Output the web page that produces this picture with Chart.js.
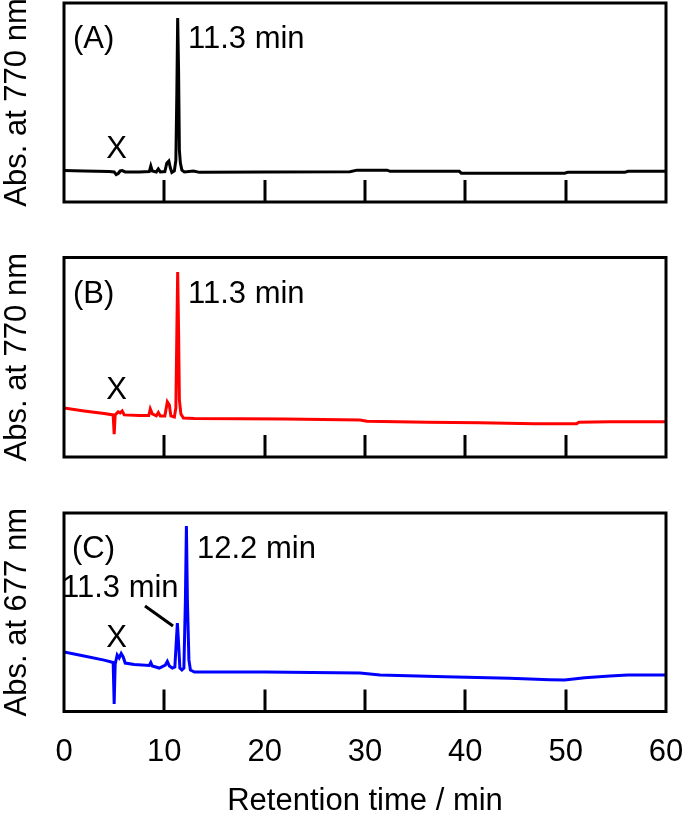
<!DOCTYPE html>
<html>
<head>
<meta charset="utf-8">
<script src="https://cdn.jsdelivr.net/npm/chart.js@4.4.1/dist/chart.umd.min.js"></script>
<style>
html,body{margin:0;padding:0;background:#fff;}
#wrap{position:relative;width:685px;height:815px;overflow:hidden;background:#fff;}
canvas{position:absolute;left:0;}
</style>
</head>
<body>
<div id="wrap">
<canvas id="cA" width="685" height="215" style="top:0px;width:685px;height:215px"></canvas>
<canvas id="cB" width="685" height="215" style="top:250px;width:685px;height:215px"></canvas>
<canvas id="cC" width="685" height="310" style="top:505px;width:685px;height:310px"></canvas>
</div>
<script>
// ---- Data (retention time in min, absorbance in arbitrary units 0-100) ----
const timeA = [0,2,4.5,5.0,5.2,5.4,5.6,5.8,6.1,7.5,8.5,8.65,8.8,9.2,9.4,9.6,10.05,10.25,10.45,10.6,10.75,11.0,11.15,11.25,11.33,11.42,11.5,11.6,11.75,12.0,12.9,13.5,20,28.5,29.2,32.2,32.5,39.4,39.6,49.9,50.2,55.9,56.2,60];
const absA  = [15.8,15.6,15.3,15.1,13.8,14.3,15.6,15.8,15.1,15.1,15.3,18.1,15.6,15.1,16.6,15.1,15.3,19.6,20.6,17.1,14.8,15.6,21,56,92.5,66,26,19.6,16,15.1,15.6,14.9,15.1,15.2,16.0,16.0,15.4,15.4,14.5,14.5,14.9,14.9,15.4,15.4];

const timeB = [0,2,4,4.9,5.0,5.1,5.4,5.6,5.8,6.0,7.5,8.45,8.6,8.8,9.2,9.4,9.6,10.05,10.3,10.5,10.65,11.0,11.15,11.25,11.33,11.42,11.5,11.65,11.9,13,22,29.5,30.2,36.2,41.4,46.9,51.1,51.3,54.4,60];
const absB  = [24.6,23.1,21.8,21.1,11.5,21.1,22.6,22.1,23.1,21.1,20.8,20.8,24.1,21.6,20.6,22.3,20.6,20.6,27.6,26,20.6,20,24.6,63.7,92.7,63.7,28.6,21.6,19.5,19.3,19,18.5,17.9,17.4,17.2,16.7,16.7,17.4,17.7,17.7];

const timeC = [0,2,4,4.9,5.0,5.1,5.3,5.5,5.7,5.9,6.1,7,8.5,8.65,8.8,9.5,10.1,10.3,10.5,10.8,11.05,11.2,11.3,11.4,11.55,11.75,11.95,12.1,12.2,12.3,12.45,12.6,13,20,29.5,31.5,38,44.4,48.4,49.9,51.9,54.4,56.2,60];
const absC  = [30,28,25.9,24.7,3.8,23.9,28.5,27,29.2,27.5,24.4,23.7,23.2,24.7,22.9,21.9,23.4,25.2,22.9,21.9,22.4,36,44.6,36,21.9,20.9,21.9,56,93.5,56,26,20.9,19.9,19.9,19.4,18.4,17.5,16.7,16,15.9,17,17.9,18.4,18.4];

const xTicks = [0,10,20,30,40,50,60];
const panelLabels = ['(A)','(B)','(C)'];
const yTitles = ['Abs. at 770 nm','Abs. at 770 nm','Abs. at 677 nm'];
const xTitle = 'Retention time / min';

const FONT = '"Liberation Sans", Arial, Helvetica, sans-serif';
Chart.defaults.font.family = FONT;
Chart.defaults.color = '#000';

// Frame + inward ticks + annotations
function framePlugin(notes){
  return {
    id:'frame',
    afterDraw(chart){
      const ctx = chart.ctx, a = chart.chartArea, xs = chart.scales.x;
      ctx.save();
      ctx.strokeStyle = '#000';
      ctx.lineWidth = 3;
      ctx.lineCap = 'butt';
      ctx.beginPath();
      xs.ticks.forEach(t => {
        if (t.value <= xs.min || t.value >= xs.max) return;
        const px = Math.round(xs.getPixelForValue(t.value));
        ctx.moveTo(px, a.bottom);
        ctx.lineTo(px, a.bottom - 22);
      });
      ctx.stroke();
      ctx.strokeRect(a.left, a.top, a.right - a.left, a.bottom - a.top);
      ctx.fillStyle = '#000';
      ctx.font = '31px ' + FONT;
      ctx.textBaseline = 'alphabetic';
      notes.forEach(n => {
        if (n.line) {
          ctx.beginPath();
          ctx.lineWidth = 3;
          ctx.moveTo(a.left + n.line[0], a.top + n.line[1]);
          ctx.lineTo(a.left + n.line[2], a.top + n.line[3]);
          ctx.stroke();
          return;
        }
        ctx.textAlign = n.align || 'left';
        ctx.fillText(n.text, a.left + n.dx, a.top + n.dy);
      });
      ctx.restore();
    }
  };
}

function makeChart(id, times, vals, color, yTitle, notes, bottomAxis, padTop, padBottom){
  const pts = times.map((t,i)=>({x:t, y:vals[i]}));
  return new Chart(document.getElementById(id), {
    type:'line',
    data:{datasets:[{data:pts, borderColor:color, borderWidth:3, pointRadius:0, tension:0, fill:false}]},
    options:{
      responsive:false, animation:false, devicePixelRatio:1,
      layout:{padding:{left:0, right:19, top:padTop, bottom:padBottom}},
      plugins:{legend:{display:false}, tooltip:{enabled:false}},
      scales:{
        x:{
          type:'linear', min:0, max:60,
          afterBuildTicks(s){ s.ticks = xTicks.map(v=>({value:v})); },
          grid:{display:false}, border:{display:false},
          ticks:{display:bottomAxis, font:{size:31}, padding:14, color:'#000', maxRotation:0},
          title:{display:bottomAxis, text:xTitle, font:{size:31, lineHeight:0.85}, padding:0, color:'#000'},
          afterFit(s){ s.height = bottomAxis ? 103.5 : 0; s.paddingLeft = 0; s.paddingRight = 0; }
        },
        y:{
          min:0, max:100,
          grid:{display:false}, border:{display:false},
          ticks:{display:false},
          title:{display:true, text:yTitle, font:{size:31, lineHeight:1}, padding:{top:2,bottom:0}, color:'#000'},
          afterFit(s){ s.width = 64; s.paddingTop = 0; s.paddingBottom = 0; }
        }
      }
    },
    plugins:[framePlugin(notes)]
  });
}

makeChart('cA', timeA, absA, '#000000', yTitles[0], [
  {text:panelLabels[0], dx:9, dy:45},
  {text:'11.3 min', dx:124, dy:45},
  {text:'X', dx:52.5, dy:155, align:'center'}
], false, 3, 13);

makeChart('cB', timeB, absB, '#ff0000', yTitles[1], [
  {text:panelLabels[1], dx:9, dy:45.5},
  {text:'11.3 min', dx:124, dy:45.5},
  {text:'X', dx:52.5, dy:141.5, align:'center'}
], false, 7.5, 8);

makeChart('cC', timeC, absC, '#0000ff', yTitles[2], [
  {text:panelLabels[2], dx:8, dy:45},
  {text:'12.2 min', dx:133, dy:45},
  {text:'11.3 min', dx:-2, dy:84},
  {line:[81,93,109,113]},
  {text:'X', dx:52.5, dy:134, align:'center'}
], true, 8, 0);
</script>
</body>
</html>
